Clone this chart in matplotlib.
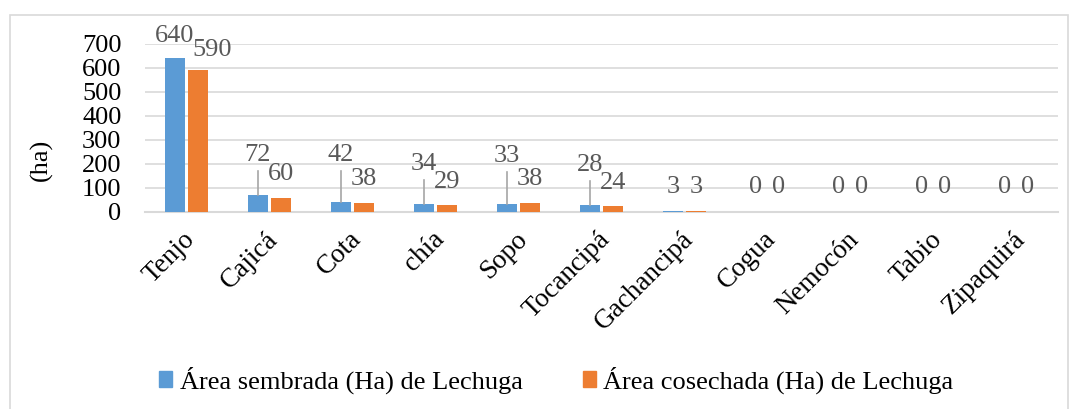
import matplotlib
matplotlib.use("Agg")
import matplotlib.pyplot as plt
import matplotlib.transforms as mtransforms
from matplotlib.patches import Patch, Rectangle
import numpy as np

plt.rcParams['font.family'] = ['Liberation Serif', 'DejaVu Serif']

# Data
municipios = ["Tenjo", "Cajicá", "Cota", "chía", "Sopo", "Tocancipá",
              "Gachancipá", "Cogua", "Nemocón", "Tabio", "Zipaquirá"]
sembrada = [640, 72, 42, 34, 33, 28, 3, 0, 0, 0, 0]
cosechada = [590, 60, 38, 29, 38, 24, 3, 0, 0, 0, 0]
y_ticks = [0, 100, 200, 300, 400, 500, 600, 700]

# Layout: label heights (data units) as the labels were dragged in the original
lab_y_sembrada = [735, 237, 237, 200, 233, 196, 104, 104, 104, 104, 104]
lab_y_cosechada = [673, 158, 137, 125, 137, 121, 104, 104, 104, 104, 104]
lab_dx_cosechada = [0.17, 0, 0, 0, 0, 0, 0, 0, 0, 0, 0]
leader = [False, True, True, True, True, True, False, False, False, False, False]

blue = "#5B9BD5"
orange = "#ED7D31"
grid_c = "#D9D9D9"
lab_c = "#595959"

W, H = 1072, 409
fig = plt.figure(figsize=(W / 100, H / 100), dpi=100)
ax = fig.add_axes([145 / W, 197 / H, 913 / W, 168 / H])

x = np.arange(len(municipios))
off = 0.139
bw = 0.235
ax.bar(x - off, sembrada, bw, color=blue, zorder=3)
ax.bar(x + off, cosechada, bw, color=orange, zorder=3)

ax.set_xlim(-0.5, len(municipios) - 0.5)
ax.set_ylim(0, 700)
ax.set_yticks(y_ticks)
ax.set_yticklabels([str(v) for v in y_ticks], fontsize=19)
ax.yaxis.grid(True, color=grid_c, linewidth=1.2, zorder=0)
ax.set_axisbelow(True)
for s in ["top", "right", "left"]:
    ax.spines[s].set_visible(False)
ax.spines["bottom"].set_color(grid_c)
ax.spines["bottom"].set_linewidth(1.5)
ax.tick_params(axis="y", length=0, pad=17)
ax.tick_params(axis="x", length=0, pad=17)

ax.set_xticks(x)
ax.set_xticklabels(municipios, fontsize=19.5, rotation=45,
                   rotation_mode="anchor", ha="right", va="center")
shift = mtransforms.ScaledTranslation(0.05, 0, fig.dpi_scale_trans)
for lab in ax.get_xticklabels():
    lab.set_transform(lab.get_transform() + shift)

ax.set_ylabel("(ha)", fontsize=19)
ax.yaxis.set_label_coords(-0.101, 0.31)

# Data labels with leader lines
px = 700 / 168.0
for i in range(len(municipios)):
    xb = x[i] - off
    ax.text(xb, lab_y_sembrada[i], str(sembrada[i]), ha="center", va="center",
            fontsize=19, color=lab_c, clip_on=False)
    if leader[i]:
        ax.plot([xb, xb], [sembrada[i], lab_y_sembrada[i] - 16 * px],
                color="#A6A6A6", linewidth=1.2, zorder=4)
    xo = x[i] + off + lab_dx_cosechada[i]
    ax.text(xo, lab_y_cosechada[i], str(cosechada[i]), ha="center", va="center",
            fontsize=19, color=lab_c, clip_on=False)

# Legend
handles = [Patch(color=blue, label="Área sembrada (Ha) de Lechuga"),
           Patch(color=orange, label="Área cosechada (Ha) de Lechuga")]
fig.legend(handles=handles, loc="center", bbox_to_anchor=(0.519, 0.071),
           ncol=2, frameon=False, fontsize=19, handlelength=0.5,
           handleheight=0.55, handletextpad=0.27, columnspacing=2.3)

# Chart area border
fig.patches.append(Rectangle((10 / W, -0.01), 1058 / W, (H - 15) / H + 0.01,
                             transform=fig.transFigure, fill=False,
                             edgecolor=grid_c, linewidth=1.2))

plt.savefig("out.png", dpi=100)
